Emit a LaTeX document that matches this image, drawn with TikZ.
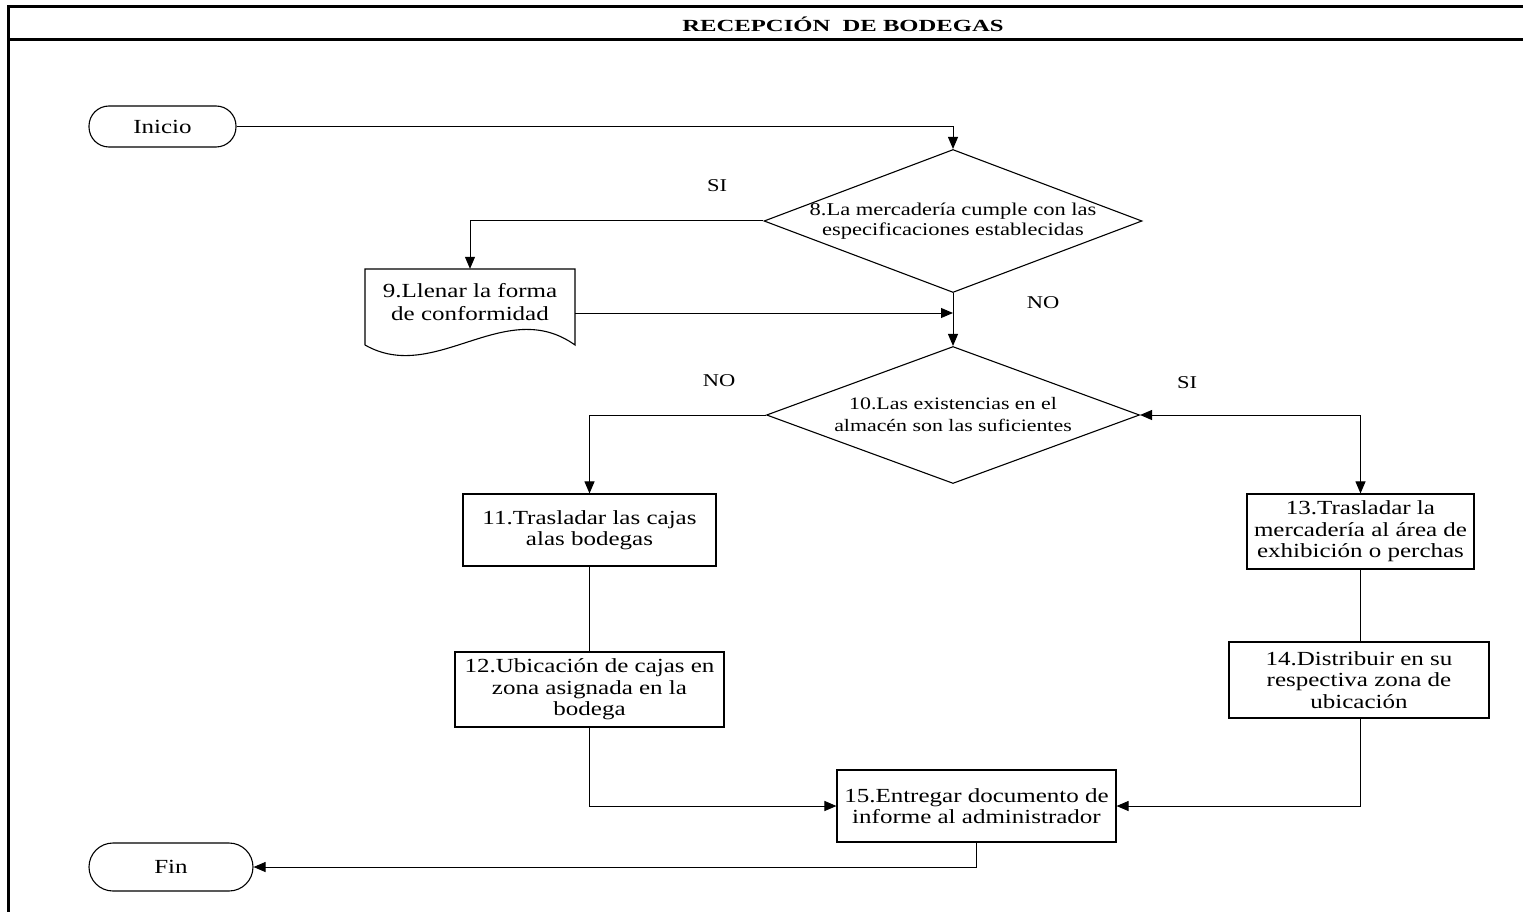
\documentclass[tikz,border=0pt]{standalone}
\usepackage{fontspec}
\setmainfont[FakeStretch=1.25]{Liberation Serif}
\newfontfamily\titlefont[FakeStretch=1.45]{Liberation Serif}
\usetikzlibrary{arrows.meta,shapes.geometric}

\tikzset{
  conn/.style={line width=1pt},
  arr/.style={conn,-{Triangle[length=12pt,width=10pt]}},
  arrboth/.style={conn,{Triangle[length=12pt,width=10pt]}-{Triangle[length=12pt,width=10pt]}},
  procbox/.style={draw,line width=1.1pt,rectangle,inner sep=0pt,align=center,
    font=\fontsize{20}{21.5}\selectfont},
  termbox/.style={draw,line width=1.1pt,rectangle,inner sep=0pt,
    font=\fontsize{20}{22}\selectfont},
  decision/.style={draw,line width=1.1pt,diamond,inner sep=0pt},
  dectext/.style={align=center,inner sep=0pt},
  branchlbl/.style={font=\fontsize{18}{20}\selectfont,inner sep=0pt},
  frameline/.style={line width=3pt}
}

\begin{document}
\begin{tikzpicture}[x=1pt,y=-1pt]
\useasboundingbox (0,0) rectangle (1523,912);

% frame and title strip
\draw[frameline] (8,912) -- (8,7) -- (1523,7);
\draw[frameline] (8,40) -- (1523,40);
\node[inner sep=0pt,font=\titlefont\bfseries\fontsize{17}{19}\selectfont] (title) at (843,24) {RECEPCIÓN\ \ DE BODEGAS};

% terminals
\node[termbox,minimum width=147pt,minimum height=41pt,rounded corners=20pt] (inicio) at (162.5,126.5) {Inicio};
\node[termbox,minimum width=164pt,minimum height=48pt,rounded corners=24pt] (fin) at (171,867) {Fin};

% decisions
\node[decision,minimum width=378pt,minimum height=143pt,
  label={[dectext,font=\fontsize{18}{19.5}\selectfont]center:8.La mercadería cumple con las\\especificaciones establecidas}] (d8) at (953,221) {};
\node[decision,minimum width=373pt,minimum height=137pt,
  label={[dectext,font=\fontsize{17.5}{22}\selectfont]center:10.Las existencias en el\\almacén son las suficientes}] (d10) at (953,415) {};

% document shape (step 9)
\node[inner sep=0pt,minimum width=210pt,minimum height=76pt] (doc) at (470,307) {};
\draw[line width=1.1pt] (365,345) -- (365,269) -- (575,269) -- (575,345)
  .. controls (505,295) and (435,385) .. (365,345);
\node[align=center,inner sep=0pt,font=\fontsize{20}{23}\selectfont] (doctext) at (470,302) {9.Llenar la forma\\de conformidad};

% process boxes
\node[procbox,minimum width=253pt,minimum height=72pt] (b11) at (589.5,530) {11.Trasladar las cajas\\alas bodegas};
\node[procbox,minimum width=269pt,minimum height=75pt] (b12) at (589.5,689.5) {12.Ubicación de cajas en\\zona asignada en la\\bodega};
\node[procbox,minimum width=227pt,minimum height=75pt] (b13) at (1360.5,531.5) {13.Trasladar la\\mercadería al área de\\exhibición o perchas};
\node[procbox,minimum width=260pt,minimum height=76pt] (b14) at (1359,680) {14.Distribuir en su\\respectiva zona de\\ubicación};
\node[procbox,minimum width=279pt,minimum height=72pt] (b15) at (976.5,806) {15.Entregar documento de\\informe al administrador};

% branch labels
\node[branchlbl] (si1) at (717,186) {SI};
\node[branchlbl] (no1) at (1043,303) {NO};
\node[branchlbl] (no2) at (719,381) {NO};
\node[branchlbl] (si2) at (1187,383) {SI};

% connectors
\coordinate (j8) at (953,313);
\draw[arr] (inicio.east) -| (d8.north);
\draw[arr] (d8.west) -| (doc.north);
\draw[arr] (d8.south) -- (d10.north);
\draw[arr] (doc.east |- j8) -- (j8);
\draw[arr] (d10.west) -| (b11.north);
\draw[arrboth] (d10.east) -| (b13.north);
\draw[conn] (b11.south) -- (b12.north);
\draw[conn] (b13.south) -- (b13.south |- b14.north);
\draw[arr] (b12.south) |- (b15.west);
\draw[arr] (b13.south |- b14.south) |- (b15.east);
\draw[arr] (b15.south) |- (fin.east);
\end{tikzpicture}
\end{document}
